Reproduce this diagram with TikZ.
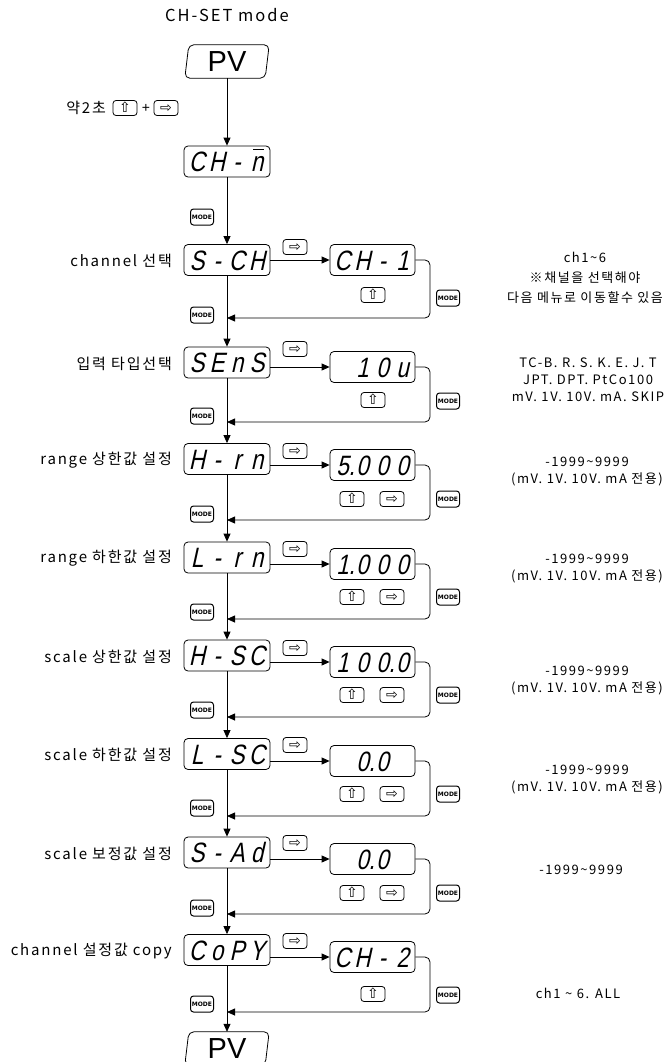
\documentclass[tikz,border=0pt]{standalone}
\usepackage{fontspec}
\setmainfont{Noto Sans CJK KR}
\newfontfamily\labf{Noto Sans CJK KR}[LetterSpace=12]
\newfontfamily\segf{Liberation Sans}[FakeSlant=0.22,FakeStretch=0.8]
\newfontfamily\symf{DejaVu Sans}
\newfontfamily\latf{Liberation Sans}
\usetikzlibrary{arrows.meta}
\newcommand\dsp[4]{\makebox[20pt]{#1}\makebox[20pt]{#2}\makebox[20pt]{#3}\makebox[20pt]{#4}}
\newcommand\topn{\rlap{\kern2.5pt\rule[21pt]{11pt}{1.6pt}}n}
\begin{document}
\begin{tikzpicture}[x=1pt,y=-1pt,
  flow/.style={line width=0.8pt,-{Triangle[length=8pt,width=7pt]}},
  loop/.style={flow,rounded corners=5pt},
  disp/.style={draw,line width=0.8pt,rounded corners=4pt,minimum width=86pt,minimum height=31pt,inner sep=0pt,text height=20pt,text depth=0pt,font=\segf\fontsize{28}{28}\selectfont},
  rdisp/.style={disp,minimum width=85pt,minimum height=31pt},
  pvbox/.style={minimum width=84pt,minimum height=33pt,inner sep=0pt,font=\latf\fontsize{29}{29}\selectfont},
  pvline/.style={line width=0.8pt,rounded corners=5pt},
  key/.style={draw,line width=0.8pt,rounded corners=3pt,minimum width=24pt,minimum height=15pt,inner sep=0pt,text height=10pt,text depth=1pt,font=\symf\fontsize{14}{14}\selectfont},
  modekey/.style={draw,line width=1pt,rounded corners=3pt,minimum width=23pt,minimum height=16pt,inner sep=0pt,font=\symf\bfseries\fontsize{6}{6}\selectfont},
  lab/.style={anchor=east,inner sep=0pt,font=\labf\fontsize{15}{15}\selectfont},
  note/.style={align=center,inner sep=0pt,font=\labf\fontsize{13}{17}\selectfont},
  title/.style={inner sep=0pt,font=\labf\fontsize{16.5}{16.5}\selectfont},
]
\clip (0,0) rectangle (669,1062);
\node[title] (title) at (227,15) {CH-SET mode};
% top PV
\node[pvbox] (pv1) at (227,61.5) {PV};
\draw[pvline] ([xshift=4pt]pv1.north west) -- (pv1.north east) -- ([xshift=-4pt]pv1.south east) -- (pv1.south west) -- cycle;
% hold keys
\node[lab] (hold) at (106,108) {약2초};
\node[key] (hu) at (125,108) {⇧};
\node[inner sep=0pt,font=\latf\fontsize{14}{14}\selectfont] (plus) at (146,108) {+};
\node[key] (hr) at (166,108) {⇨};
% CH-m
\node[disp] (chm) at (227,161.5) {\dsp{C}{H}{-}{\topn}};
\node[modekey] (m0) at (202,217) {MODE};
% rows: left display nodes
\node[disp] (b1) at (227,260) {\dsp{S}{-}{C}{H}};
\node[disp] (b2) at (227,362.5) {\dsp{S}{E}{n}{S}};
\node[disp] (b3) at (227,459) {\dsp{H}{-}{r}{n}};
\node[disp] (b4) at (227,557.5) {\dsp{L}{-}{r}{n}};
\node[disp] (b5) at (227,655.5) {\dsp{H}{-}{S}{C}};
\node[disp] (b6) at (227,754) {\dsp{L}{-}{S}{C}};
\node[disp] (b7) at (227,852.5) {\dsp{S}{-}{A}{d}};
\node[disp] (b8) at (227,950) {\dsp{C}{o}{P}{Y}};
\node[pvbox] (pv2) at (227,1048.5) {PV};
\draw[pvline] ([xshift=4pt]pv2.north west) -- (pv2.north east) -- ([xshift=-4pt]pv2.south east) -- (pv2.south west) -- cycle;
% labels
\node[lab] (l1) at (172,261) {channel 선택};
\node[lab] (l2) at (172,363.5) {입력 타입선택};
\node[lab] (l3) at (172,460) {range 상한값 설정};
\node[lab] (l4) at (172,558.5) {range 하한값 설정};
\node[lab] (l5) at (172,656.5) {scale 상한값 설정};
\node[lab] (l6) at (172,755) {scale 하한값 설정};
\node[lab] (l7) at (172,853.5) {scale 보정값 설정};
\node[lab] (l8) at (172,951) {channel 설정값 copy};
% right displays
\node[rdisp] (r1) at (372.5,260) {\dsp{C}{H}{-}{1}};
\node[rdisp] (r2) at (372.5,367) {\dsp{}{1}{0}{u}};
\node[rdisp] (r3) at (372.5,465) {\dsp{5\rlap{.}}{0}{0}{0}};
\node[rdisp] (r4) at (372.5,564) {\dsp{1\rlap{.}}{0}{0}{0}};
\node[rdisp] (r5) at (372.5,662) {\dsp{1}{0}{0\rlap{.}}{0}};
\node[rdisp] (r6) at (372.5,761) {\dsp{}{0\rlap{.}}{0}{}};
\node[rdisp] (r7) at (372.5,859) {\dsp{}{0\rlap{.}}{0}{}};
\node[rdisp] (r8) at (372.5,957) {\dsp{C}{H}{-}{2}};
% arrow keys above horizontal arrows
\node[key] (a1) at (295,247) {⇨};
\node[key] (a2) at (295,349) {⇨};
\node[key] (a3) at (295,451) {⇨};
\node[key] (a4) at (295,549) {⇨};
\node[key] (a5) at (295,648) {⇨};
\node[key] (a6) at (295,745) {⇨};
\node[key] (a7) at (295,843) {⇨};
\node[key] (a8) at (295,941) {⇨};
% keys below right displays
\node[key] (u1) at (373,295) {⇧};
\node[key] (u2) at (373,400) {⇧};
\node[key] (u3) at (352,499) {⇧};
\node[key] (s3) at (392,499) {⇨};
\node[key] (u4) at (352,597) {⇧};
\node[key] (s4) at (392,597) {⇨};
\node[key] (u5) at (352,695) {⇧};
\node[key] (s5) at (392,695) {⇨};
\node[key] (u6) at (352,794) {⇧};
\node[key] (s6) at (392,794) {⇨};
\node[key] (u7) at (352,893) {⇧};
\node[key] (s7) at (392,893) {⇨};
\node[key] (u8) at (373,994) {⇧};
% MODE keys right
\node[modekey] (mr1) at (448,298) {MODE};
\node[modekey] (mr2) at (448,401) {MODE};
\node[modekey] (mr3) at (448,499) {MODE};
\node[modekey] (mr4) at (448,597) {MODE};
\node[modekey] (mr5) at (448,695) {MODE};
\node[modekey] (mr6) at (448,794) {MODE};
\node[modekey] (mr7) at (448,893) {MODE};
\node[modekey] (mr8) at (448,995) {MODE};
% MODE keys left
\node[modekey] (ml1) at (202,315) {MODE};
\node[modekey] (ml2) at (202,416) {MODE};
\node[modekey] (ml3) at (202,514) {MODE};
\node[modekey] (ml4) at (202,612) {MODE};
\node[modekey] (ml5) at (202,710) {MODE};
\node[modekey] (ml6) at (202,808) {MODE};
\node[modekey] (ml7) at (202,908) {MODE};
\node[modekey] (ml8) at (202,1004) {MODE};
% return points on main line
\coordinate (j1) at (227,318);
\coordinate (j2) at (227,422);
\coordinate (j3) at (227,520);
\coordinate (j4) at (227,619);
\coordinate (j5) at (227,717);
\coordinate (j6) at (227,816);
\coordinate (j7) at (227,914);
\coordinate (j8) at (227,1012);
% main line
\draw[flow] (pv1) -- (chm);
\draw[flow] (chm) -- (b1);
\draw[flow] (b1) -- (b2);
\draw[flow] (b2) -- (b3);
\draw[flow] (b3) -- (b4);
\draw[flow] (b4) -- (b5);
\draw[flow] (b5) -- (b6);
\draw[flow] (b6) -- (b7);
\draw[flow] (b7) -- (b8);
\draw[flow] (b8) -- (pv2.north);
% horizontal arrows and loops
\foreach \i in {1,...,8}{
  \draw[flow] (b\i.east |- r\i.west) -- (r\i.west);
  \draw[loop] (r\i.east) -- (430,0 |- r\i.east) -- (430,0 |- j\i) -- (j\i);
}
% notes
\node[note,font=\labf\fontsize{13}{20}\selectfont] (n1) at (585,278) {ch1\textasciitilde 6\\※채널을 선택해야\\다음 메뉴로 이동할수 있음};
\node[note] (n2) at (588,380) {TC-B. R. S. K. E. J. T\\JPT. DPT. PtCo100\\mV. 1V. 10V. mA. SKIP};
\node[note] (n3) at (587,471.5) {-1999\textasciitilde 9999\\(mV. 1V. 10V. mA 전용)};
\node[note] (n4) at (587,569) {-1999\textasciitilde 9999\\(mV. 1V. 10V. mA 전용)};
\node[note] (n5) at (587,680.5) {-1999\textasciitilde 9999\\(mV. 1V. 10V. mA 전용)};
\node[note] (n6) at (587,780) {-1999\textasciitilde 9999\\(mV. 1V. 10V. mA 전용)};
\node[note] (n7) at (581,870) {-1999\textasciitilde 9999};
\node[note] (n8) at (578,993) {ch1 \textasciitilde{} 6. ALL};
\end{tikzpicture}
\end{document}
